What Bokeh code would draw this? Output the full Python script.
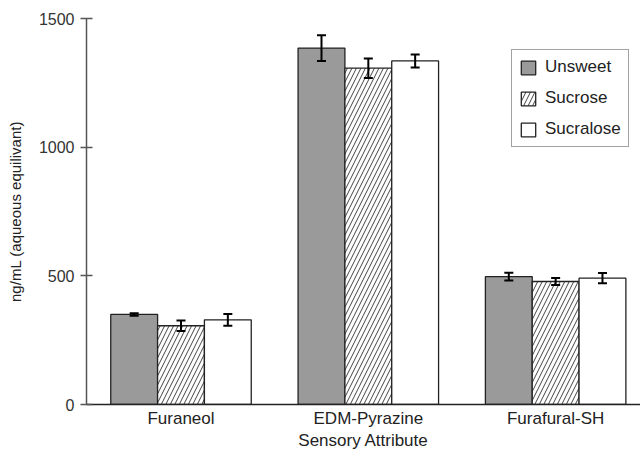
from bokeh.plotting import figure
from bokeh.models import Range1d, FixedTicker, Whisker, TeeHead, ColumnDataSource, Legend, LegendItem
from bokeh.embed import file_html
from bokeh.resources import INLINE

compounds = ["Furaneol", "EDM-Pyrazine", "Furafural-SH"]
treatments = ["Unsweet", "Sucrose", "Sucralose"]
unsweet = [350, 1385, 497]
unsweet_err = [5, 50, 15]
sucrose = [306, 1307, 478]
sucrose_err = [20, 38, 14]
sucralose = [329, 1335, 491]
sucralose_err = [23, 25, 20]
y_ticks = [0, 500, 1000, 1500]
x_title = "Sensory Attribute"

FONT = "Liberation Sans"

p = figure(width=640, height=452, output_backend="svg", toolbar_location=None,
           x_range=Range1d(0.4955, 3.453), y_range=Range1d(0, 1500),
           min_border_left=86, min_border_right=0, min_border_top=18, min_border_bottom=47)
p.outline_line_color = None
p.xgrid.visible = False
p.ygrid.visible = False
p.background_fill_color = "white"
p.border_fill_color = "white"

series = [unsweet, sucrose, sucralose]
errors = [unsweet_err, sucrose_err, sucralose_err]
offsets = [-0.25, 0.0, 0.25]
styles = [
    dict(fill_color="#9a9a9a"),
    dict(fill_color="white", hatch_pattern="right_diagonal_line", hatch_color="#444444",
         hatch_scale=9, hatch_weight=1),
    dict(fill_color="white"),
]
renderers = []
for vals, errs, off, st in zip(series, errors, offsets, styles):
    xs = [i + 1 + off for i in range(len(compounds))]
    src = ColumnDataSource(dict(x=xs, top=vals,
                                upper=[v + e for v, e in zip(vals, errs)],
                                lower=[v - e for v, e in zip(vals, errs)]))
    r = p.vbar(x="x", top="top", bottom=0, width=0.25, source=src,
               line_color="#222222", line_width=1.3, **st)
    renderers.append(r)
    w = Whisker(base="x", upper="upper", lower="lower", source=src, level="overlay",
                line_color="black", line_width=2,
                upper_head=TeeHead(size=9, line_width=2, line_color="black"),
                lower_head=TeeHead(size=9, line_width=2, line_color="black"))
    p.add_layout(w)

legend = Legend(items=[LegendItem(label=t, renderers=[r]) for t, r in zip(treatments, renderers)],
                location=(425, 257))
legend.label_text_font = FONT
legend.label_text_font_size = "17px"
legend.label_text_color = "#222222"
legend.glyph_width = 18
legend.glyph_height = 17
legend.label_height = 17
legend.label_standoff = 8
legend.spacing = 11
legend.padding = 7
legend.margin = 0
legend.border_line_color = "#444444"
legend.border_line_width = 1.5
legend.background_fill_alpha = 1
p.add_layout(legend)

# y axis
ya = p.yaxis[0]
ya.ticker = FixedTicker(ticks=y_ticks)
ya.minor_tick_line_color = None
ya.major_tick_in = 6
ya.major_tick_out = 6
ya.major_label_standoff = 6
ya.axis_line_color = "#555555"
ya.axis_line_width = 1.5
ya.major_tick_line_color = "#555555"
ya.major_tick_line_width = 1.5
ya.major_label_text_font = FONT
ya.major_label_text_font_size = "16px"
ya.major_label_text_color = "#333333"
ya.axis_label = "ng/mL (aqueous equilivant)"
ya.axis_label_text_font = FONT
ya.axis_label_text_font_size = "15px"
ya.axis_label_text_font_style = "normal"
ya.axis_label_text_color = "#222222"
ya.axis_label_standoff = 12

# x axis
xa = p.xaxis[0]
xa.ticker = FixedTicker(ticks=[1, 2, 3])
xa.major_label_overrides = {i + 1: c for i, c in enumerate(compounds)}
xa.minor_tick_line_color = None
xa.major_tick_line_color = None
xa.major_tick_in = 0
xa.major_tick_out = 0
xa.major_label_standoff = 4
xa.axis_line_color = "#222222"
xa.axis_line_width = 1.5
xa.major_label_text_font = FONT
xa.major_label_text_font_size = "17px"
xa.major_label_text_color = "#222222"
xa.axis_label = x_title
xa.axis_label_text_font = FONT
xa.axis_label_text_font_size = "17px"
xa.axis_label_text_font_style = "normal"
xa.axis_label_text_color = "#222222"
xa.axis_label_standoff = 0

open("out.html", "w").write(file_html(p, INLINE))
